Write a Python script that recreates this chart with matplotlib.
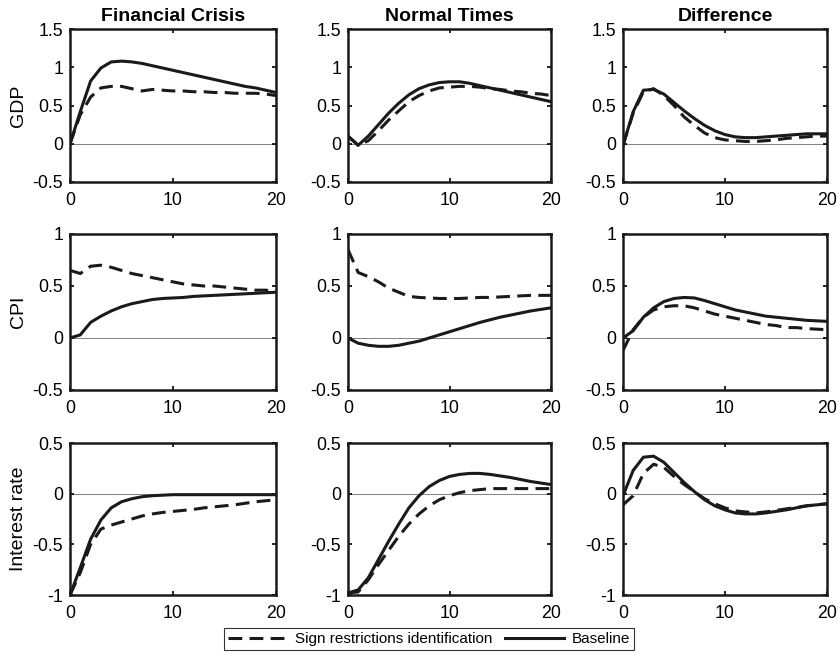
import numpy as np
import matplotlib.pyplot as plt

plt.rcParams['font.family'] = ['Liberation Sans', 'DejaVu Sans']

h = np.arange(21)

col_titles = ["Financial Crisis", "Normal Times", "Difference"]
row_labels = ["GDP", "CPI", "Interest rate"]
ylims = [(-0.5, 1.5), (-0.5, 1.0), (-1.0, 0.5)]
yticks = [[-0.5, 0, 0.5, 1, 1.5], [-0.5, 0, 0.5, 1], [-1, -0.5, 0, 0.5]]

# GDP
gdp_fc_base = [0.0, 0.42, 0.82, 0.99, 1.07, 1.08, 1.07, 1.05, 1.02, 0.99, 0.96,
               0.93, 0.90, 0.87, 0.84, 0.81, 0.78, 0.75, 0.73, 0.70, 0.67]
gdp_fc_sign = [0.0, 0.38, 0.61, 0.73, 0.75, 0.75, 0.72, 0.69, 0.71, 0.70, 0.69,
               0.69, 0.68, 0.68, 0.67, 0.67, 0.66, 0.66, 0.66, 0.65, 0.63]
gdp_nt_base = [0.10, -0.02, 0.10, 0.25, 0.40, 0.53, 0.64, 0.72, 0.77, 0.80, 0.81,
               0.81, 0.79, 0.76, 0.73, 0.70, 0.67, 0.64, 0.61, 0.58, 0.55]
gdp_nt_sign = [0.10, -0.02, 0.04, 0.17, 0.31, 0.43, 0.55, 0.63, 0.69, 0.73, 0.74,
               0.75, 0.75, 0.74, 0.72, 0.71, 0.69, 0.68, 0.66, 0.65, 0.63]
gdp_df_base = [-0.02, 0.42, 0.70, 0.71, 0.65, 0.54, 0.43, 0.33, 0.24, 0.17, 0.12,
               0.09, 0.08, 0.08, 0.09, 0.10, 0.11, 0.12, 0.13, 0.13, 0.13]
gdp_df_sign = [-0.02, 0.40, 0.68, 0.72, 0.63, 0.50, 0.35, 0.24, 0.14, 0.08, 0.05,
               0.04, 0.03, 0.03, 0.04, 0.05, 0.07, 0.08, 0.09, 0.10, 0.10]

# CPI
cpi_fc_base = [0.0, 0.03, 0.15, 0.21, 0.26, 0.30, 0.33, 0.35, 0.37, 0.38, 0.385,
               0.39, 0.40, 0.405, 0.41, 0.415, 0.42, 0.425, 0.43, 0.435, 0.44]
cpi_fc_sign = [0.65, 0.62, 0.69, 0.70, 0.68, 0.65, 0.62, 0.60, 0.58, 0.56, 0.54,
               0.52, 0.51, 0.50, 0.50, 0.49, 0.48, 0.47, 0.46, 0.46, 0.45]
cpi_nt_base = [0.0, -0.05, -0.07, -0.08, -0.08, -0.07, -0.05, -0.03, 0.0, 0.03, 0.06,
               0.09, 0.12, 0.15, 0.175, 0.20, 0.22, 0.24, 0.26, 0.275, 0.29]
cpi_nt_sign = [0.85, 0.63, 0.59, 0.54, 0.48, 0.44, 0.40, 0.39, 0.385, 0.38, 0.38,
               0.38, 0.385, 0.39, 0.39, 0.395, 0.40, 0.405, 0.41, 0.41, 0.41]
cpi_df_base = [0.0, 0.07, 0.20, 0.29, 0.35, 0.38, 0.39, 0.385, 0.36, 0.33, 0.30,
               0.27, 0.25, 0.23, 0.21, 0.20, 0.19, 0.18, 0.17, 0.165, 0.16]
cpi_df_sign = [-0.12, 0.08, 0.20, 0.27, 0.30, 0.31, 0.31, 0.29, 0.26, 0.23, 0.21,
               0.19, 0.17, 0.15, 0.13, 0.12, 0.10, 0.10, 0.09, 0.085, 0.08]

# Interest rate
ir_fc_base = [-1.0, -0.73, -0.45, -0.26, -0.14, -0.08, -0.05, -0.03, -0.02, -0.015, -0.01,
              -0.01, -0.01, -0.01, -0.01, -0.01, -0.01, -0.01, -0.01, -0.01, -0.01]
ir_fc_sign = [-1.0, -0.78, -0.50, -0.35, -0.31, -0.28, -0.25, -0.22, -0.20, -0.185, -0.175,
              -0.165, -0.155, -0.14, -0.13, -0.12, -0.11, -0.095, -0.08, -0.07, -0.06]
ir_nt_base = [-0.98, -0.95, -0.83, -0.65, -0.47, -0.30, -0.14, -0.02, 0.07, 0.13, 0.17,
              0.19, 0.20, 0.20, 0.19, 0.175, 0.16, 0.14, 0.12, 0.105, 0.09]
ir_nt_sign = [-0.98, -0.97, -0.85, -0.70, -0.56, -0.42, -0.30, -0.20, -0.12, -0.06, -0.02,
              0.01, 0.03, 0.04, 0.05, 0.05, 0.05, 0.05, 0.05, 0.05, 0.05]
ir_df_base = [-0.02, 0.23, 0.36, 0.37, 0.31, 0.21, 0.11, 0.02, -0.06, -0.12, -0.16,
              -0.19, -0.20, -0.20, -0.19, -0.175, -0.16, -0.14, -0.12, -0.11, -0.10]
ir_df_sign = [-0.11, -0.02, 0.20, 0.29, 0.26, 0.17, 0.09, 0.02, -0.05, -0.10, -0.14,
              -0.17, -0.18, -0.19, -0.18, -0.165, -0.15, -0.135, -0.12, -0.11, -0.10]

baseline = [[gdp_fc_base, gdp_nt_base, gdp_df_base],
            [cpi_fc_base, cpi_nt_base, cpi_df_base],
            [ir_fc_base, ir_nt_base, ir_df_base]]
signres = [[gdp_fc_sign, gdp_nt_sign, gdp_df_sign],
           [cpi_fc_sign, cpi_nt_sign, cpi_df_sign],
           [ir_fc_sign, ir_nt_sign, ir_df_sign]]

fig = plt.figure(figsize=(8.38, 6.54), dpi=100)
W, H = 838, 654
lefts = [70, 348, 623]
widths = [206, 203, 204]
tops = [29, 234, 443]
heights = [153, 156, 152]

for i in range(3):
    for j in range(3):
        ax = fig.add_axes([lefts[j] / W, 1 - (tops[i] + heights[i]) / H,
                           widths[j] / W, heights[i] / H])
        ax.axhline(0, color='#808080', lw=0.7, zorder=1)
        l1, = ax.plot(h, signres[i][j], color='#1a1a1a', lw=2.2, ls=(0, (4.5, 2.4)))
        l2, = ax.plot(h, baseline[i][j], color='#1a1a1a', lw=2.2)
        ax.set_xlim(0, 20)
        ax.set_ylim(*ylims[i])
        ax.set_xticks([0, 10, 20])
        ax.set_yticks(yticks[i])
        ax.set_yticklabels([('%g' % v) for v in yticks[i]])
        ax.tick_params(direction='in', top=True, right=True, length=3,
                       width=1.2, labelsize=12.8, pad=5)
        ax.tick_params(axis='x', pad=7)
        for s in ax.spines.values():
            s.set_linewidth(1.8)
            s.set_color('#1a1a1a')
        if i == 0:
            ax.set_title(col_titles[j], fontsize=14, fontweight='bold', pad=6)
        if j == 0:
            ax.set_ylabel(row_labels[i], fontsize=14, labelpad=4)

leg = fig.legend([l1, l2], ["Sign restrictions identification", "Baseline"],
                 loc='center', bbox_to_anchor=(429 / W, 1 - 639 / H), ncol=2,
                 fontsize=11, frameon=True, fancybox=False, handlelength=3.9,
                 borderpad=0.25, columnspacing=0.8, handletextpad=0.5)
leg.get_frame().set_edgecolor('black')
leg.get_frame().set_linewidth(0.8)

fig.savefig("out.png", dpi=100)
